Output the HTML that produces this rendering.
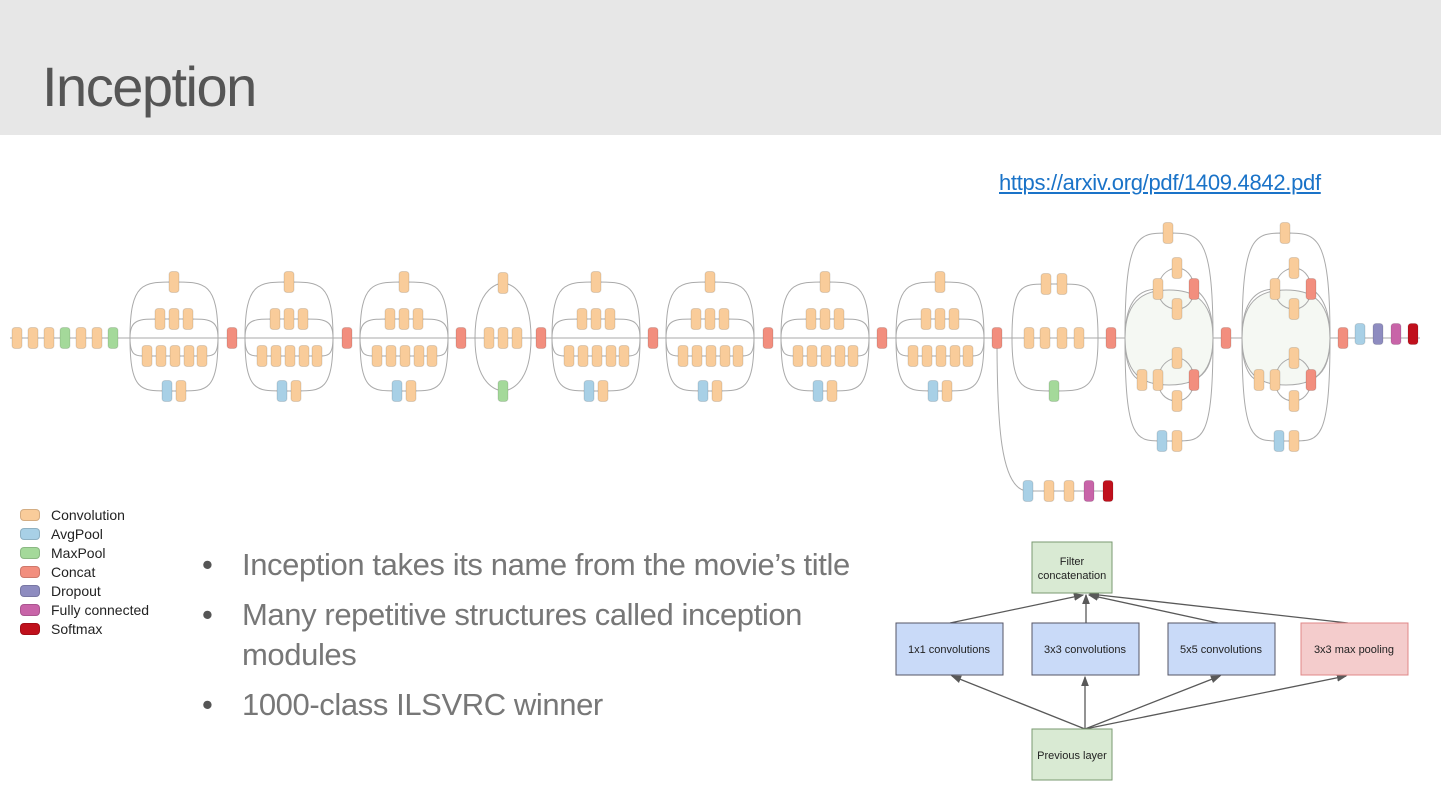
<!DOCTYPE html>
<html><head><meta charset="utf-8"><style>
html,body{margin:0;padding:0;background:#fff;width:1441px;height:809px;overflow:hidden;font-family:"Liberation Sans",sans-serif}
#hdr{position:absolute;left:0;top:0;width:1441px;height:135px;background:#e7e7e7}
#title{position:absolute;left:42px;top:52px;font-size:56px;color:#555;letter-spacing:-1.5px;line-height:70px}
#link{position:absolute;left:999px;top:170px;font-size:22px;color:#1a73c8;text-decoration:underline;letter-spacing:-0.3px}
.leg{position:absolute;left:20px;font-size:14px;color:#222;line-height:19px}
.leg i{display:inline-block;width:18px;height:10px;border-radius:4px;margin-right:11px;vertical-align:-1px;border:1px solid rgba(0,0,0,.15)}
ul{position:absolute;left:200px;top:545px;margin:0;padding:0;list-style:none;color:#777;font-size:31px;letter-spacing:-0.4px}
li{position:relative;padding-left:42px;line-height:40px;margin-bottom:10px}
li:before{content:"•";position:absolute;left:2px;color:#555}
svg{position:absolute;left:0;top:0}
</style></head><body>
<div id="hdr"></div>
<div id="title">Inception</div>
<div id="link">https://arxiv.org/pdf/1409.4842.pdf</div>
<div class="leg" style="top:506px"><i style="background:#f9cc9a"></i>Convolution</div>
<div class="leg" style="top:525px"><i style="background:#a8d0e6"></i>AvgPool</div>
<div class="leg" style="top:544px"><i style="background:#a4d99a"></i>MaxPool</div>
<div class="leg" style="top:563px"><i style="background:#f28e7e"></i>Concat</div>
<div class="leg" style="top:582px"><i style="background:#8e8cc0"></i>Dropout</div>
<div class="leg" style="top:601px"><i style="background:#c864a8"></i>Fully connected</div>
<div class="leg" style="top:620px"><i style="background:#c0101c"></i>Softmax</div>
<ul>
<li>Inception takes its name from the movie’s title</li>
<li style="margin-bottom:10px">Many repetitive structures called inception<br>modules</li>
<li>1000-class ILSVRC winner</li>
</ul>
<svg id="net" width="1441" height="809" xmlns="http://www.w3.org/2000/svg">
<defs><marker id="ar" markerWidth="8" markerHeight="8" refX="7" refY="4" orient="auto"><path d="M0,1 L8,4 L0,7z" fill="#595959"/></marker></defs>
<g id="lines" fill="none" stroke="#aaa" stroke-width="1"></g>
<g id="blocks"></g>
<g stroke="#595959" stroke-width="1.3" marker-end="url(#ar)">
<line x1="950" y1="623" x2="1083" y2="595"/><line x1="1086" y1="623" x2="1086" y2="595"/>
<line x1="1218" y1="623" x2="1089" y2="595"/><line x1="1348" y1="623" x2="1090" y2="594"/>
<line x1="1085" y1="729" x2="952" y2="676"/><line x1="1085" y1="729" x2="1085" y2="677"/>
<line x1="1085" y1="729" x2="1220" y2="676"/><line x1="1085" y1="729" x2="1346" y2="676"/>
</g>
<g font-size="11" fill="#222" text-anchor="middle">
<rect x="1032" y="542" width="80" height="51" fill="#d9ead3" stroke="#7a9a70"/>
<text x="1072" y="565">Filter</text><text x="1072" y="579">concatenation</text>
<rect x="896" y="623" width="107" height="52" fill="#c9daf8" stroke="#556"/>
<text x="949" y="653">1x1 convolutions</text>
<rect x="1032" y="623" width="107" height="52" fill="#c9daf8" stroke="#556"/>
<text x="1085" y="653">3x3 convolutions</text>
<rect x="1168" y="623" width="107" height="52" fill="#c9daf8" stroke="#556"/>
<text x="1221" y="653">5x5 convolutions</text>
<rect x="1301" y="623" width="107" height="52" fill="#f4cccc" stroke="#e08888"/>
<text x="1354" y="653">3x3 max pooling</text>
<rect x="1032" y="729" width="80" height="51" fill="#d9ead3" stroke="#7a9a70"/>
<text x="1072" y="759">Previous layer</text>
</g>
</svg>
<script>
var C={c:"#f9cc9a",a:"#a8d0e6",m:"#a4d99a",k:"#f28e7e",d:"#8e8cc0",f:"#c864a8",s:"#c0101c"};
var B=document.getElementById("blocks"),L=document.getElementById("lines"),NS="http://www.w3.org/2000/svg";
function blk(x,y,t){var r=document.createElementNS(NS,"rect");r.setAttribute("x",x-5);r.setAttribute("y",y-10.5);r.setAttribute("width",10);r.setAttribute("height",21);r.setAttribute("rx",3);r.setAttribute("fill",C[t]);r.setAttribute("stroke","rgba(0,0,0,0.12)");B.appendChild(r);}
function path(d,f){var p=document.createElementNS(NS,"path");p.setAttribute("d",d);if(f){p.setAttribute("fill",f);}L.appendChild(p);}
path("M10,338 H1420");
[[17,"c"],[33,"c"],[49,"c"],[65,"m"],[81,"c"],[97,"c"],[113,"m"]].forEach(function(b){blk(b[0],338,b[1])});
function branch(Lx,Rx,y,xs,ty){var a=xs[0],b=xs[xs.length-1];
 path("M"+Lx+",338 C"+Lx+","+y+" "+(Lx+(a-Lx)*0.3)+","+y+" "+a+","+y+" H"+b+" C"+(Rx-(Rx-b)*0.3)+","+y+" "+Rx+","+y+" "+Rx+",338");
 xs.forEach(function(x,i){blk(x,y,ty[i])});}
function std(cx){var Lx=cx-44,Rx=cx+44;
 branch(Lx,Rx,282,[cx],"c");branch(Lx,Rx,319,[cx-14,cx,cx+14],"ccc");
 branch(Lx,Rx,356,[cx-27,cx-13,cx+1,cx+15,cx+28],"ccccc");branch(Lx,Rx,391,[cx-7,cx+7],"ac");}
[174,289,404,596,710,825,940].forEach(std);
(function(){var cx=503,Lx=475,Rx=531;path("M"+Lx+",338 C"+Lx+",283 "+cx+",283 "+cx+",283 C"+cx+",283 "+Rx+",283 "+Rx+",338");blk(cx,283,"c");
 [489,503,517].forEach(function(x){blk(x,338,"c")});
 path("M"+Lx+",338 C"+Lx+",391 "+cx+",391 "+cx+",391 C"+cx+",391 "+Rx+",391 "+Rx+",338");blk(cx,391,"m");})();
(function(){var Lx=1012,Rx=1098;branch(Lx,Rx,284,[1046,1062],"cc");[1029,1045,1062,1079].forEach(function(x){blk(x,338,"c")});branch(Lx,Rx,391,[1054],"m");})();
function big(o){var Lx=1125+o,Rx=1213+o,x=function(v){return v+o};
 path("M"+Lx+",338 C"+Lx+",295 "+x(1150)+",290 "+x(1169)+",290 C"+x(1188)+",290 "+Rx+",295 "+Rx+",338 C"+Rx+",381 "+x(1188)+",385 "+x(1169)+",385 C"+x(1150)+",385 "+Lx+",381 "+Lx+",338z","#f5f8f3");
 branch(Lx,Rx,233,[x(1168)],"c");
 branch(Lx,Rx,441,[x(1162),x(1177)],"ac");
 path("M"+Lx+",338 C"+Lx+",300 "+x(1140)+",289 "+x(1158)+",289");path("M"+x(1194)+",289 C"+x(1205)+",295 "+Rx+",310 "+Rx+",338");
 path("M"+x(1158)+",289 C"+x(1160)+",268 "+x(1177)+",268 "+x(1177)+",268 C"+x(1185)+",268 "+x(1194)+",275 "+x(1194)+",289 C"+x(1194)+",303 "+x(1185)+",309 "+x(1177)+",309 C"+x(1165)+",309 "+x(1158)+",300 "+x(1158)+",289");
 path("M"+Lx+",338 C"+Lx+",370 "+x(1135)+",380 "+x(1142)+",380");path("M"+x(1194)+",380 C"+x(1205)+",375 "+Rx+",365 "+Rx+",338");
 path("M"+x(1158)+",380 C"+x(1160)+",358 "+x(1177)+",358 "+x(1177)+",358 C"+x(1185)+",358 "+x(1194)+",366 "+x(1194)+",380 C"+x(1194)+",394 "+x(1185)+",401 "+x(1177)+",401 C"+x(1165)+",401 "+x(1158)+",392 "+x(1158)+",380");
 blk(x(1177),268,"c");blk(x(1158),289,"c");blk(x(1194),289,"k");blk(x(1177),309,"c");
 blk(x(1142),380,"c");blk(x(1158),380,"c");blk(x(1177),358,"c");blk(x(1194),380,"k");blk(x(1177),401,"c");}
big(0);big(117);
[232,347,461,541,653,768,882,997,1111,1226,1343].forEach(function(x){blk(x,338,"k")});
[[1360,"a"],[1378,"d"],[1396,"f"],[1413,"s"]].forEach(function(b){blk(b[0],334,b[1])});
path("M997,338 C997,420 1000,491 1028,491 H1108");
[[1028,"a"],[1049,"c"],[1069,"c"],[1089,"f"],[1108,"s"]].forEach(function(b){blk(b[0],491,b[1])});
</script>
</body></html>
